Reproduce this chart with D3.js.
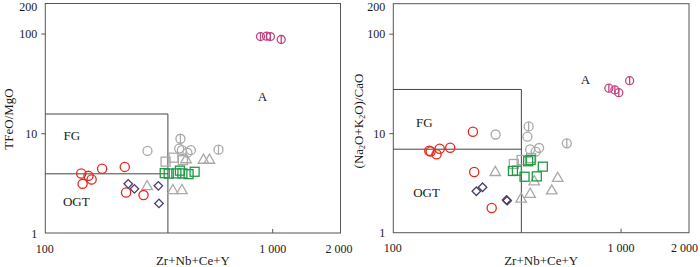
<!DOCTYPE html>
<html><head><meta charset="utf-8">
<script src="https://cdn.jsdelivr.net/npm/d3@7"></script>
<style>
html,body{margin:0;padding:0;background:#fff;}
svg{display:block;font-family:"Liberation Serif","Times New Roman",serif;}
</style>
</head><body>
<svg id="chart" width="700" height="267"></svg>
<script>
// ---- tick values / titles ----
const xTickValues = [100, 1000, 2000];
const yTickValues = [1, 10, 100, 200];
const xTitle = "Zr+Nb+Ce+Y";

// ---- data (x = Zr+Nb+Ce+Y, y1 = TFeO/MgO, y2 = (Na2O+K2O)/CaO) ----
const redX        = [144, 146, 155, 160, 178, 224, 227, 271];
const redY1       = [3.95, 3.11, 3.74, 3.44, 4.40, 4.60, 2.55, 2.40];
const redY2       = [6.67, 6.55, 6.14, 6.98, 7.15, 10.35, 4.07, 1.77];

const diamondX    = [232, 247, 315, 317];
const diamondY1   = [3.11, 2.77, 2.97, 1.98];
const diamondY2   = [2.61, 2.86, 2.13, 2.10];

const magentaX    = [888, 944, 982, 1096];
const magentaY1   = [93.3, 94, 93.3, 87.1];
const magentaY2   = [28.3, 27.2, 25.5, 33.7];

const greenX      = [336, 350, 378, 392, 402, 428, 455];
const greenY1     = [3.98, 3.94, 3.96, 4.22, 3.96, 3.89, 4.11];
const greenY2     = [4.17, 4.20, 3.65, 5.22, 5.38, 3.68, 4.61];

const greyCircleX  = [282, 389, 400, 423, 438];
const greyCircleY1 = [6.65, 7.03, 6.76, 6.38, 6.76];
const greyCircleY2 = [9.70, 9.22, 6.86, 6.52, 7.10];

const greyBarX     = [394, 580];
const greyBarY1    = [8.81, 6.84];
const greyBarY2    = [11.7, 7.91];

const greySquareX  = [339, 367, 404];
const greySquareY1 = [5.19, 5.69, 5.37];
const greySquareY2 = [4.90, 5.38, 5.63];

const greyTriX     = [281, 365, 400, 417, 498, 529];
const greyTriY1    = [2.92, 2.66, 2.66, 5.43, 5.37, 5.37];
const greyTriY2    = [4.03, 2.18, 2.43, 3.25, 2.63, 3.52];

// field boundaries
const boxX   = [347, 366];
const boxTop = [15.6, 27.5];
const boxMid = [3.92, 6.9];

const zip = (xs, ys) => xs.map((v, i) => [v, ys[i]]);

const panels = [
  { xr: [45.3, 340.5], yr: [233, 3.5], ytitle: "TFeO/MgO", ytx: 8.5, yty: 119,
    ys: { red: redY1, dia: diamondY1, mag: magentaY1, green: greenY1, gc: greyCircleY1, gb: greyBarY1, gs: greySquareY1, gt: greyTriY1 },
    box: [boxX[0], boxTop[0], boxMid[0]],
    labels: [["A", 906, 23.4], ["FG", 131, 9.55], ["OGT", 137, 2.06]] },
  { xr: [393.3, 689], yr: [232.7, 3.7], ytitle: null, ytx: 358.5, yty: 121,
    ys: { red: redY2, dia: diamondY2, mag: magentaY2, green: greenY2, gc: greyCircleY2, gb: greyBarY2, gs: greySquareY2, gt: greyTriY2 },
    box: [boxX[1], boxTop[1], boxMid[1]],
    labels: [["A", 700, 34.8], ["FG", 137, 12.8], ["OGT", 140, 2.55]] }
];

const svg = d3.select("#chart");
const frameColor = "#555";
const textColor = "#1a1a1a";
const fmtX = d => d >= 1000 ? (String(d)[0] + " " + String(d).slice(1)) : String(d);

panels.forEach((p, pi) => {
  const x = d3.scaleLog().domain([100, 2000]).range(p.xr);
  const y = d3.scaleLog().domain([1, 200]).range(p.yr);
  const g = svg.append("g");

  // frame
  g.append("rect")
    .attr("x", p.xr[0]).attr("y", p.yr[1])
    .attr("width", p.xr[1] - p.xr[0]).attr("height", p.yr[0] - p.yr[1])
    .attr("fill", "none").attr("stroke", frameColor).attr("stroke-width", 1);

  // field boundaries
  const [bx, bt, bm] = p.box;
  const path = d3.path();
  path.moveTo(x(100), y(bt)); path.lineTo(x(bx), y(bt)); path.lineTo(x(bx), y(1));
  path.moveTo(x(100), y(bm)); path.lineTo(x(bx), y(bm));
  g.append("path").attr("d", path.toString()).attr("fill", "none")
    .attr("stroke", "#444").attr("stroke-width", 1);

  // axes
  const yAxis = d3.axisLeft(y).tickValues(yTickValues).tickSize(4).tickPadding(4).tickFormat(d => String(d));
  const ya = g.append("g").attr("transform", `translate(${p.xr[0]},0)`).call(yAxis);
  ya.select(".domain").remove();
  ya.selectAll(".tick line").attr("stroke", frameColor).filter(d => d === 1 || d === 200).remove();
  ya.selectAll(".tick text").attr("font-size", 12).attr("font-family", "Liberation Serif").attr("fill", textColor)
    .attr("dy", "0.35em").attr("y", d => d === 200 ? 2.5 : 0);

  const xAxis = d3.axisBottom(x).tickValues(xTickValues).tickSizeInner(-4).tickSizeOuter(0).tickPadding(11).tickFormat(fmtX);
  const xa = g.append("g").attr("transform", `translate(0,${p.yr[0]})`).call(xAxis);
  xa.select(".domain").remove();
  xa.selectAll(".tick line").attr("stroke", frameColor).filter(d => d === 100 || d === 2000).remove();
  xa.selectAll(".tick text").attr("font-size", 12).attr("font-family", "Liberation Serif").attr("fill", textColor)
    .attr("dx", d => d === 2000 ? (pi === 1 ? -5 : -2) : (d === 100 ? -1 : 0));

  // titles
  g.append("text").attr("x", (p.xr[0] + p.xr[1]) / 2).attr("y", 265)
    .attr("text-anchor", "middle").attr("font-size", 13).attr("fill", textColor).text(xTitle);
  const yt = g.append("text").attr("transform", `translate(${p.ytx},${p.yty}) rotate(-90)`)
    .attr("text-anchor", "middle").attr("font-size", 13).attr("fill", textColor).attr("dy", "0.35em");
  if (p.ytitle) {
    yt.text(p.ytitle);
  } else {
    yt.append("tspan").text("(Na");
    yt.append("tspan").attr("font-size", 8).attr("dy", 1.5).text("2");
    yt.append("tspan").attr("dy", -1.5).text("O+K");
    yt.append("tspan").attr("font-size", 8).attr("dy", 1.5).text("2");
    yt.append("tspan").attr("dy", -1.5).text("O)/CaO");
  }

  // field labels
  p.labels.forEach(([t, lx, ly]) => {
    g.append("text").attr("x", x(lx)).attr("y", y(ly)).attr("dy", "0.35em")
      .attr("text-anchor", "middle").attr("font-size", 13).attr("fill", textColor).text(t);
  });

  const sw = 1.3;
  const grey = "#a9a9a9";
  // grey triangles
  g.selectAll(null).data(zip(greyTriX, p.ys.gt)).join("path")
    .attr("d", d3.symbol(d3.symbolTriangle, 48)())
    .attr("transform", d => `translate(${x(d[0])},${y(d[1])})`)
    .attr("fill", "none").attr("stroke", grey).attr("stroke-width", sw);
  // grey squares
  g.selectAll(null).data(zip(greySquareX, p.ys.gs)).join("rect")
    .attr("x", d => x(d[0]) - 4.5).attr("y", d => y(d[1]) - 4.5).attr("width", 9).attr("height", 9)
    .attr("fill", "none").attr("stroke", grey).attr("stroke-width", sw);
  // grey circles
  g.selectAll(null).data(zip(greyCircleX, p.ys.gc)).join("circle")
    .attr("cx", d => x(d[0])).attr("cy", d => y(d[1])).attr("r", 4.5)
    .attr("fill", "none").attr("stroke", grey).attr("stroke-width", sw);
  // grey circles with bar
  const gb = g.selectAll(null).data(zip(greyBarX, p.ys.gb)).join("g")
    .attr("transform", d => `translate(${x(d[0])},${y(d[1])})`);
  gb.append("circle").attr("r", 4.5).attr("fill", "none").attr("stroke", grey).attr("stroke-width", sw);
  gb.append("line").attr("y1", -4.5).attr("y2", 4.5).attr("stroke", grey).attr("stroke-width", sw);

  // green squares
  g.selectAll(null).data(zip(greenX, p.ys.green)).join("rect")
    .attr("x", d => x(d[0]) - 4.5).attr("y", d => y(d[1]) - 4.5).attr("width", 9).attr("height", 9)
    .attr("fill", "none").attr("stroke", "#1f9a45").attr("stroke-width", sw);

  // red circles
  g.selectAll(null).data(zip(redX, p.ys.red)).join("circle")
    .attr("cx", d => x(d[0])).attr("cy", d => y(d[1])).attr("r", 4.6)
    .attr("fill", "none").attr("stroke", "#e8281e").attr("stroke-width", sw);

  // purple diamonds
  g.selectAll(null).data(zip(diamondX, p.ys.dia)).join("rect")
    .attr("x", -3).attr("y", -3).attr("width", 6).attr("height", 6)
    .attr("transform", d => `translate(${x(d[0])},${y(d[1])}) rotate(45)`)
    .attr("fill", "none").attr("stroke", "#4a3d6e").attr("stroke-width", sw);

  // magenta circles with bar
  const mg = g.selectAll(null).data(zip(magentaX, p.ys.mag)).join("g")
    .attr("transform", d => `translate(${x(d[0])},${y(d[1])})`);
  mg.append("circle").attr("r", 4).attr("fill", "none").attr("stroke", "#c0437f").attr("stroke-width", sw);
  mg.append("line").attr("y1", -4).attr("y2", 4).attr("stroke", "#c0437f").attr("stroke-width", sw);
});
</script>
</body></html>
